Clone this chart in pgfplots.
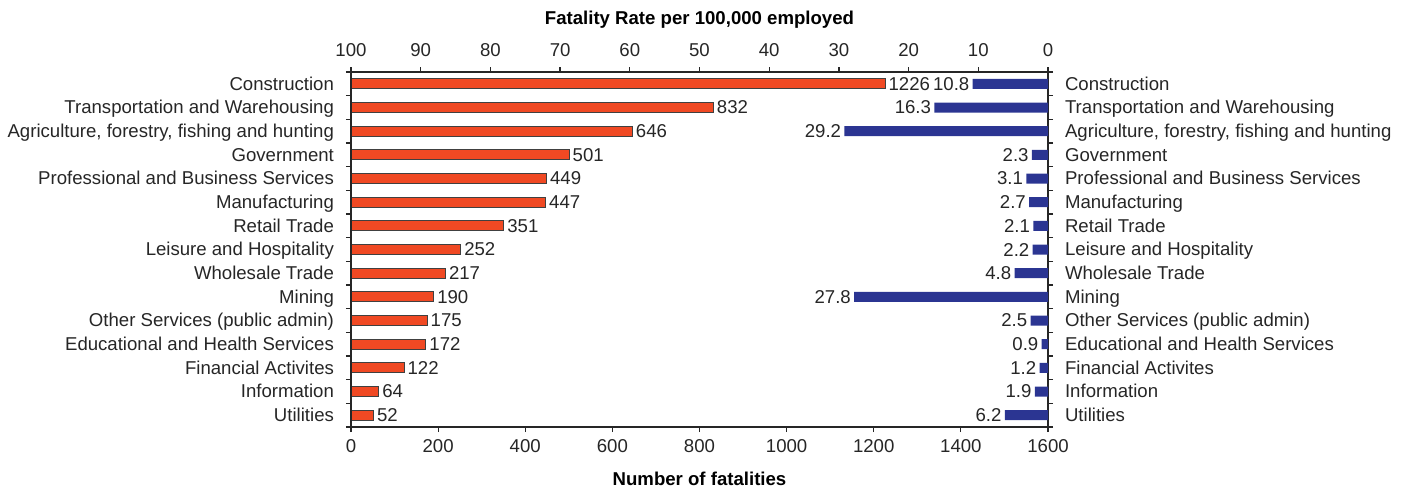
\documentclass[border=0pt]{standalone}
\usepackage{fontspec}
\setmainfont{Liberation Sans}
\usepackage{pgfplots}
\pgfplotsset{compat=1.18}
\definecolor{redbar}{HTML}{F04923}
\definecolor{bluebar}{HTML}{2B3592}
\begin{document}
\begin{tikzpicture}[font=\fontsize{9.3}{11.2}\selectfont]
\pgfplotsset{
  common/.style={
    width=348.5pt, height=177.5pt, scale only axis,
    at={(0,0)}, anchor=south west,
    ymin=-0.5, ymax=14.5, y dir=reverse,
    ytick={0,...,14},
    minor ytick={-0.5,0.5,...,14.5},
    every major y tick/.append style={draw=none},
    major tick length=2.5pt, minor tick length=2.5pt,
    tick align=outside,
    axis line style={line width=0.6pt, black!85},
    tick style={line width=0.6pt, black!85},
    /pgf/number format/assume math mode=true,
    /pgf/number format/1000 sep={},
    tick label style={font=\fontsize{9.3}{11.2}\selectfont, text=black!85},
    yticklabel style={text height=1.6ex, text depth=0.4ex},
    label style={font=\fontsize{9.3}{11.2}\selectfont\bfseries},
    clip=false,
  }
}
% bottom axis: number of fatalities
\begin{axis}[common,
  xmin=0, xmax=1600, xtick={0,200,...,1600},
  xtick pos=bottom, ytick pos=left,
  xlabel={Number of fatalities},
  xlabel style={yshift=-3pt},
  yticklabels={Construction,Transportation and Warehousing,{Agriculture, forestry, fishing and hunting},Government,Professional and Business Services,Manufacturing,Retail Trade,Leisure and Hospitality,Wholesale Trade,Mining,Other Services (public admin),Educational and Health Services,Financial Activites,Information,Utilities},
  yticklabel style={xshift=-2.5pt},
]
\addplot[xbar, bar width=5pt, fill=redbar, draw=black!75, line width=0.5pt,
  nodes near coords, nodes near coords align=horizontal,
  every node near coord/.append style={font=\fontsize{9.3}{11.2}\selectfont, text=black!85, inner sep=1.5pt}]
coordinates {(1226,0) (832,1) (646,2) (501,3) (449,4) (447,5) (351,6) (252,7) (217,8) (190,9) (175,10) (172,11) (122,12) (64,13) (52,14)};
\end{axis}
% top axis: fatality rate
\begin{axis}[common,
  xmin=0, xmax=100, x dir=reverse, xtick={0,10,...,100},
  xtick pos=top, xticklabel pos=top, ytick pos=right, yticklabel pos=right,
  xlabel={Fatality Rate per 100,000 employed},
  xlabel style={yshift=1pt},
  xticklabel style={yshift=1.5pt},
  yticklabels={Construction,Transportation and Warehousing,{Agriculture, forestry, fishing and hunting},Government,Professional and Business Services,Manufacturing,Retail Trade,Leisure and Hospitality,Wholesale Trade,Mining,Other Services (public admin),Educational and Health Services,Financial Activites,Information,Utilities},
  yticklabel style={xshift=2.5pt},
]
\addplot[xbar, bar width=5pt, fill=bluebar, draw=none,
  nodes near coords,
  every node near coord/.append style={anchor=east, font=\fontsize{9.3}{11.2}\selectfont, text=black!85, inner sep=1.5pt}]
coordinates {(10.8,0) (16.3,1) (29.2,2) (2.3,3) (3.1,4) (2.7,5) (2.1,6) (2.2,7) (4.8,8) (27.8,9) (2.5,10) (0.9,11) (1.2,12) (1.9,13) (6.2,14)};
\end{axis}
\pgfresetboundingbox
\path[use as bounding box] (-175.5pt,-30.5pt) rectangle (527.5pt,213.5pt);
\end{tikzpicture}
\end{document}
